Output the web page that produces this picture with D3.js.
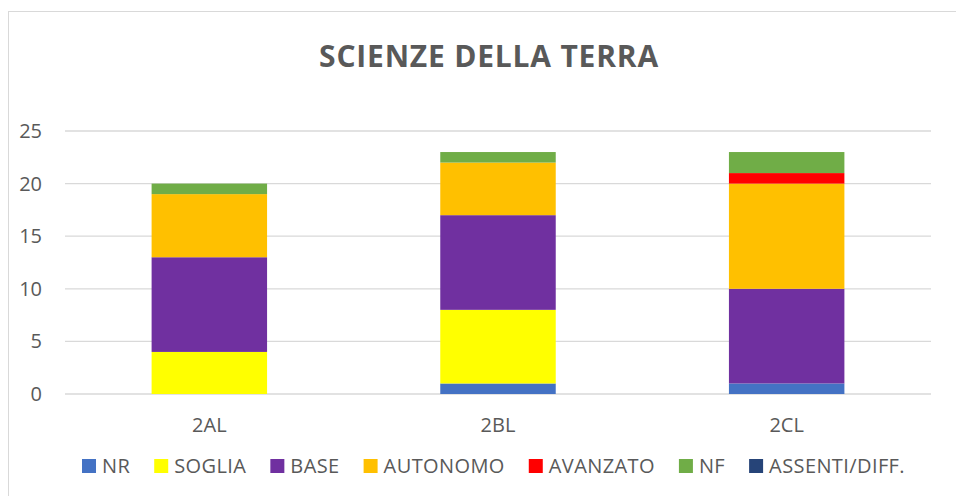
<!DOCTYPE html>
<html>
<head>
<meta charset="utf-8">
<script src="https://cdn.jsdelivr.net/npm/d3@7"></script>
<style>
  body { margin: 0; background: #fff; }
  text { font-family: "Open Sans", sans-serif; fill: #595959; }
</style>
</head>
<body>
<div id="chart"></div>
<script>
// data
const classes = ["2AL", "2BL", "2CL"];
const levels = ["NR", "SOGLIA", "BASE", "AUTONOMO", "AVANZATO", "NF", "ASSENTI/DIFF."];
const colors = ["#4472C4", "#FFFF00", "#7030A0", "#FFC000", "#FF0000", "#70AD47", "#264478"];
const NR = [0, 1, 1];
const SOGLIA = [4, 7, 0];
const BASE = [9, 9, 9];
const AUTONOMO = [6, 5, 10];
const AVANZATO = [0, 0, 1];
const NF = [1, 1, 2];
const ASSENTI = [0, 0, 0];
const yTicks = [0, 5, 10, 15, 20, 25];

const series = [NR, SOGLIA, BASE, AUTONOMO, AVANZATO, NF, ASSENTI];
const rows = classes.map((c, i) => {
    const r = { cls: c };
    levels.forEach((l, j) => r[l] = series[j][i]);
    return r;
});

const W = 956, H = 496;
const MARGIN = { LEFT: 65, RIGHT: 25, TOP: 131, BOTTOM: 102 };
const width = W - MARGIN.LEFT - MARGIN.RIGHT;
const height = H - MARGIN.TOP - MARGIN.BOTTOM;

const svg = d3.select("#chart").append("svg")
    .attr("width", W)
    .attr("height", H);

// outer chart border
svg.append("rect")
    .attr("x", 8.5).attr("y", 11.5)
    .attr("width", W).attr("height", H)
    .attr("fill", "none")
    .attr("stroke", "#d9d9d9");

svg.append("text")
    .attr("x", 489)
    .attr("y", 67)
    .attr("text-anchor", "middle")
    .style("font-size", "30px")
    .style("font-weight", "bold")
    .style("letter-spacing", "0.8px")
    .text("SCIENZE DELLA TERRA");

const g = svg.append("g")
    .attr("transform", `translate(${MARGIN.LEFT}, ${MARGIN.TOP})`);

const x = d3.scaleBand()
    .domain(classes)
    .range([0, width])
    .paddingInner(0.6)
    .paddingOuter(0.3);

const y = d3.scaleLinear()
    .domain([0, 25])
    .range([height, 0]);

// gridlines
g.append("g").selectAll("line")
    .data(yTicks)
    .join("line")
    .attr("x1", 0).attr("x2", width)
    .attr("y1", d => y(d)).attr("y2", d => y(d))
    .attr("stroke", "#d9d9d9")
    .attr("stroke-width", 1.3);

// y labels
g.append("g").selectAll("text")
    .data(yTicks)
    .join("text")
    .attr("x", -23)
    .attr("y", d => y(d))
    .attr("dy", "0.35em")
    .attr("text-anchor", "end")
    .style("font-size", "20px")
    .text(d => d);

// stacked bars
const stack = d3.stack().keys(levels)(rows);
g.append("g").selectAll("g")
    .data(stack)
    .join("g")
    .attr("fill", (d, i) => colors[i])
    .selectAll("rect")
    .data(d => d)
    .join("rect")
    .attr("x", d => x(d.data.cls))
    .attr("width", x.bandwidth())
    .attr("y", d => y(d[1]))
    .attr("height", d => y(d[0]) - y(d[1]));

// x labels
g.append("g").selectAll("text")
    .data(classes)
    .join("text")
    .attr("x", d => x(d) + x.bandwidth() / 2)
    .attr("y", height + 38)
    .attr("text-anchor", "middle")
    .style("font-size", "20px")
    .text(d => d);

// legend
const legend = svg.append("g");
const items = legend.selectAll("g")
    .data(levels)
    .join("g");
items.append("rect")
    .attr("width", 14).attr("height", 14)
    .attr("y", -14)
    .attr("fill", (d, i) => colors[i]);
items.append("text")
    .attr("x", 20)
    .attr("y", 0)
    .style("font-size", "20px")
    .style("letter-spacing", "0.4px")
    .text(d => d);

let cx = 0;
items.each(function() {
    const node = d3.select(this);
    node.attr("transform", `translate(${cx}, 0)`);
    cx += 20 + node.select("text").node().getComputedTextLength() + 24;
});
const total = cx - 24;
legend.attr("transform", `translate(${(82 + 905) / 2 - total / 2}, 473)`);
</script>
</body>
</html>
